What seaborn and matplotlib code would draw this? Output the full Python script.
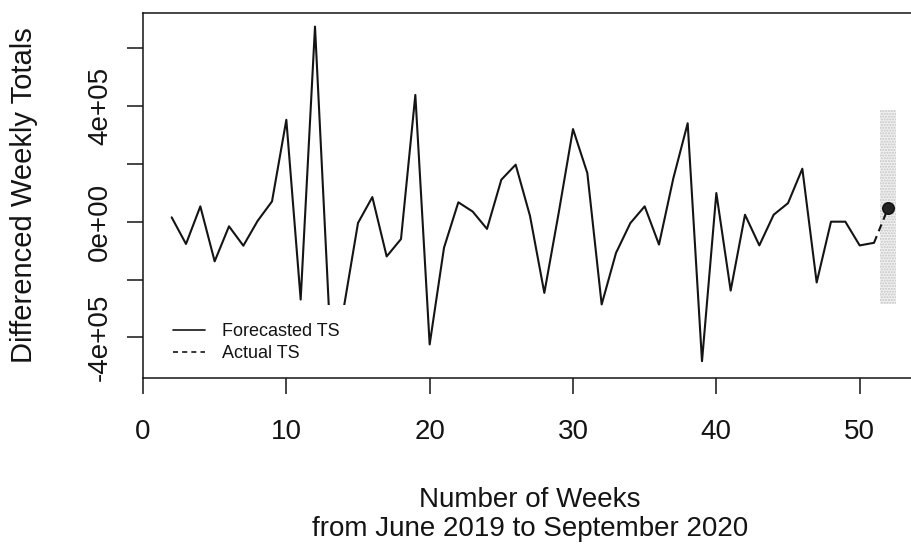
import matplotlib
matplotlib.use("Agg")
import matplotlib.pyplot as plt
import seaborn as sns
from matplotlib.patches import Rectangle
from matplotlib.lines import Line2D

# Differenced weekly totals, weeks 2-51 (forecasted series)
weeks = list(range(2, 52))
forecast = [
    1.5e4, -7.7e4, 5.3e4, -1.37e5, -1.6e4, -8.3e4, 3e3, 7.0e4, 3.52e5, -2.69e5,
    6.74e5, -3.3e5, -3.0e5, -4.5e3, 8.5e4, -1.2e5, -6e4, 4.38e5, -4.24e5, -9e4,
    6.7e4, 3.5e4, -2.5e4, 1.45e5, 1.97e5, 2e4, -2.46e5, 3e4, 3.2e5, 1.68e5,
    -2.86e5, -1.08e5, -5e3, 5.3e4, -7.9e4, 1.5e5, 3.4e5, -4.82e5, 9.9e4, -2.38e5,
    2.4e4, -8.2e4, 2.4e4, 6.4e4, 1.83e5, -2.1e5, 0.0, 0.0, -8.2e4, -7.3e4,
]

# Actual value for the held-out week and its interval
actual_weeks = [51, 52]
actual_values = [-7.3e4, 4.9e4]
interval_week = 52
interval_lower = -2.83e5
interval_upper = 3.86e5

x_ticks = [0, 10, 20, 30, 40, 50]
y_ticks = [-4e5, -2e5, 0, 2e5, 4e5, 6e5]
y_tick_labels = ["-4e+05", "", "0e+00", "", "4e+05", ""]
legend_labels = ["Forecasted TS", "Actual TS"]

ink = "#141414"

sns.set_theme(style="ticks")
plt.rcParams["font.family"] = ["Liberation Sans", "DejaVu Sans"]

W, H = 912, 549
fig = plt.figure(figsize=(W / 100, H / 100), dpi=100)
left, right, top, bottom = 143, 917, 12.7, 377.7
ax = fig.add_axes([left / W, 1 - bottom / H, (right - left) / W, (bottom - top) / H])

# prediction interval for the last week
ax.add_patch(Rectangle((interval_week - 0.55, interval_lower), 1.1,
                       interval_upper - interval_lower,
                       facecolor="#f1f1f1", edgecolor="#c4c4c4", hatch="......",
                       lw=0, zorder=1))

sns.lineplot(x=weeks, y=forecast, ax=ax, color=ink, lw=1.5, zorder=2)
sns.lineplot(x=actual_weeks, y=actual_values, ax=ax, color=ink, lw=1.5,
             linestyle=(0, (3.5, 2.5)), zorder=2)
sns.scatterplot(x=[actual_weeks[-1]], y=[actual_values[-1]], ax=ax, s=70,
                color="#222222", edgecolor="#111111", linewidth=1, zorder=4)

# white backing behind the legend
ax.add_patch(Rectangle((0.009, 0.005), 0.275, 0.194, transform=ax.transAxes,
                       facecolor="white", edgecolor="none", zorder=3))
handles = [Line2D([], [], color=ink, lw=1.2),
           Line2D([], [], color=ink, lw=1.2, linestyle=(0, (3, 2.5)))]
leg = ax.legend(handles, legend_labels, loc="upper left",
                bbox_to_anchor=(0.039, 0.150), frameon=False, fontsize=13,
                handlelength=1.75, handletextpad=0.95, labelspacing=0.3,
                borderpad=0, borderaxespad=0)
leg.set_zorder(5)
for t in leg.get_texts():
    t.set_color(ink)

ax.set_xlim(0, 54)
ax.set_ylim(-5.39e5, 7.22e5)
ax.set_xticks(x_ticks)
ax.set_xticklabels([str(v) for v in x_ticks])
ax.set_yticks(y_ticks)
ax.set_yticklabels(y_tick_labels, rotation=90, va="center")

ax.tick_params(axis="both", direction="out", length=11.5, width=1.1,
               colors=ink, labelsize=20)
ax.tick_params(axis="x", pad=18)
ax.tick_params(axis="y", pad=10)

for side in ["left", "top", "bottom"]:
    ax.spines[side].set_color(ink)
    ax.spines[side].set_linewidth(1.1)
ax.spines["right"].set_visible(False)

ax.set_ylabel("Differenced Weekly Totals", fontsize=21, color=ink)
ax.yaxis.set_label_coords(-0.136, 0.5)
ax.set_xlabel("Number of Weeks\nfrom June 2019 to September 2020",
              fontsize=20, color=ink, linespacing=1.15)
ax.xaxis.set_label_coords(0.5, -0.30)
ax.xaxis.label.set_va("top")

fig.savefig("out.png", dpi=100)
